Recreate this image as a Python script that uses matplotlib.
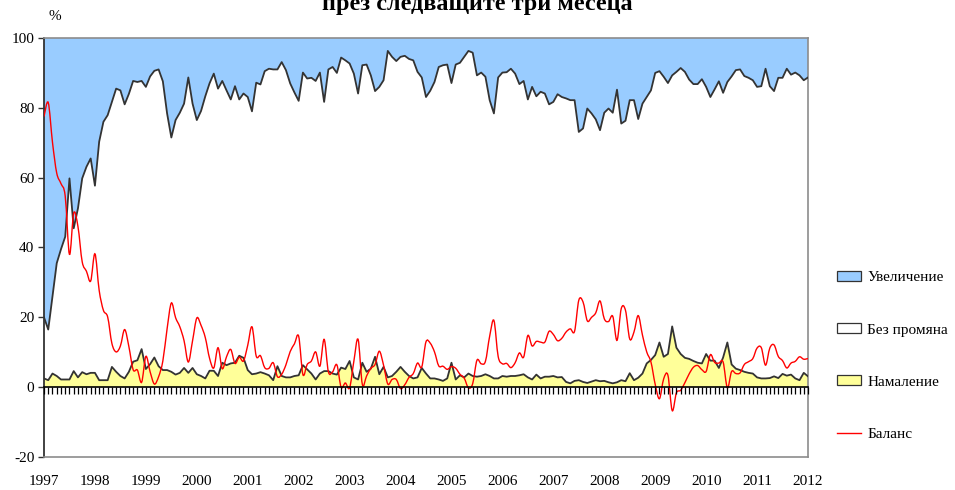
import matplotlib
matplotlib.use("Agg")
import matplotlib.pyplot as plt
import numpy as np
from matplotlib.patches import Patch, PathPatch
from matplotlib.lines import Line2D
from matplotlib.path import Path

plt.rcParams['font.family'] = ['Liberation Serif', 'DejaVu Serif']
plt.rcParams['axes.unicode_minus'] = False

years = ['1997', '1998', '1999', '2000', '2001', '2002', '2003', '2004',
         '2005', '2006', '2007', '2008', '2009', '2010', '2011', '2012']

# monthly shares (%), Jan 1997 .. Jan 2012
increase = [80, 83.5, 74, 64.5, 60.5, 56.9, 40.2, 54.5, 48.8, 40.2, 36.9, 34.5,
            42.3, 29.7, 24, 22.1, 18.3, 14.5, 15, 19, 16, 12.3, 12.6, 12.3,
            14, 11, 9.4, 9, 12.4, 21.6, 28.5, 23.5, 21.4, 18.8, 11.3, 18.8,
            23.5, 20.9, 16.7, 13, 10.2, 14.5, 12.3, 15, 17.6, 13.8, 17.6, 15.9,
            16.9, 21, 12.8, 13.3, 9.5, 8.8, 9, 9, 6.9, 9.2, 13, 15.6,
            18, 9.9, 11.6, 11.4, 12.3, 9.9, 18.3, 9, 8.3, 10, 5.6, 6.4,
            7.3, 10.2, 15.9, 7.8, 7.6, 10.7, 15.2, 14, 12.1, 3.7, 5.4, 6.6,
            5.4, 5.1, 6, 6.4, 9.7, 11.3, 16.9, 15.1, 12.6, 8.3, 7.8, 7.6,
            12.9, 7.6, 7.1, 5.4, 3.7, 4.2, 10.7, 9.9, 11.1, 17.8, 21.6, 11.3,
            9.9, 9.8, 8.8, 10.2, 13.2, 12.3, 17.6, 14, 16.7, 15.4, 15.9, 19,
            18.3, 16.1, 16.9, 17.3, 17.8, 17.8, 26.9, 25.9, 20.2, 21.6, 23.3, 26.4,
            21.4, 20.2, 21.4, 14.8, 24.5, 23.7, 17.8, 17.8, 23.2, 18.8, 16.9, 15,
            10, 9.5, 11.1, 12.9, 10.7, 9.7, 8.6, 9.7, 11.9, 13.2, 13.2, 11.8,
            14, 16.9, 14.7, 12.4, 15.7, 12.6, 11, 9.2, 9, 10.9, 11.4, 12.1,
            14, 13.8, 8.8, 13.8, 15.2, 11.4, 11.4, 8.8, 10.5, 9.9, 10.7, 12.1,
            11.3]

no_change = [17.5, 14.5, 22.1, 32.3, 37.3, 40.9, 57.6, 40.9, 48.4, 55.5, 59.4, 61.4,
             53.6, 68.3, 74, 75.9, 75.9, 81.1, 81.8, 78.5, 79.6, 80.4, 79.7, 76.8,
             80.8, 82.4, 82.1, 85, 82.7, 73.5, 67.1, 72.9, 74.5, 75.7, 84.6, 75.7,
             72.8, 75.9, 80.8, 82.3, 85.1, 82.3, 80.7, 78.7, 75.6, 79.2, 73.4, 75.7,
             78.2, 75.3, 83.3, 82.4, 86.6, 87.8, 89, 85, 89.9, 88, 84.2, 81.2,
             78.6, 83.8, 83.3, 84.7, 85.5, 86.2, 77.1, 86.4, 87.8, 86.4, 88.8, 88.4,
             85.2, 87, 81.9, 85.2, 88, 84, 76.1, 82.3, 82.1, 93.5, 91.4, 89,
             88.8, 90.5, 90.8, 91.1, 87.5, 83.2, 79.2, 82.4, 84.9, 89.5, 90.4, 89.9,
             80.1, 90.2, 89.5, 91.8, 92.4, 92.6, 86.3, 86.9, 85.2, 79, 75.9, 86.2,
             86.9, 87.2, 88, 86.6, 83.4, 84, 79.6, 83.8, 79.7, 82.1, 81.1, 78,
             78.5, 81.1, 80.2, 81.2, 81.1, 80.4, 71.1, 72.6, 78.6, 76.8, 74.7, 71.9,
             76.8, 78.4, 77.5, 83.8, 73.5, 74.6, 78.2, 80.2, 74.1, 77.3, 76.3, 77.2,
             80.8, 77.7, 80.2, 77.6, 71.9, 79, 81.9, 81.9, 80, 79.3, 79.8, 81.4,
             76.5, 75.5, 77.7, 82.1, 75.8, 74.6, 82.5, 85.5, 86.1, 84.7, 84.5, 84,
             83.2, 83.7, 88.7, 83.6, 81.7, 86, 84.8, 87.9, 85.9, 87.6, 87.3, 83.8,
             85.6]

decrease = [2.5, 2.0, 3.9, 3.2, 2.2, 2.2, 2.2, 4.6, 2.8, 4.3, 3.7, 4.1,
            4.1, 2.0, 2.0, 2.0, 5.8, 4.4, 3.2, 2.5, 4.4, 7.3, 7.7, 10.9,
            5.2, 6.6, 8.5, 6.0, 4.9, 4.9, 4.4, 3.6, 4.1, 5.5, 4.1, 5.5,
            3.7, 3.2, 2.5, 4.7, 4.7, 3.2, 7.0, 6.3, 6.8, 7.0, 9.0, 8.4,
            4.9, 3.7, 3.9, 4.3, 3.9, 3.4, 2.0, 6.0, 3.2, 2.8, 2.8, 3.2,
            3.4, 6.3, 5.1, 3.9, 2.2, 3.9, 4.6, 4.6, 3.9, 3.6, 5.6, 5.2,
            7.5, 2.8, 2.2, 7.0, 4.4, 5.3, 8.7, 3.7, 5.8, 2.8, 3.2, 4.4,
            5.8, 4.4, 3.2, 2.5, 2.8, 5.5, 3.9, 2.5, 2.5, 2.2, 1.8, 2.5,
            7.0, 2.2, 3.4, 2.8, 3.9, 3.2, 3.0, 3.2, 3.7, 3.2, 2.5, 2.5,
            3.2, 3.0, 3.2, 3.2, 3.4, 3.7, 2.8, 2.2, 3.6, 2.5, 3.0, 3.0,
            3.2, 2.8, 2.9, 1.5, 1.1, 1.8, 2.0, 1.5, 1.2, 1.6, 2.0, 1.7,
            1.8, 1.4, 1.1, 1.4, 2.0, 1.7, 4.0, 2.0, 2.7, 3.9, 6.8, 7.8,
            9.2, 12.8, 8.7, 9.5, 17.4, 11.3, 9.5, 8.4, 8.1, 7.5, 7.0, 6.8,
            9.5, 7.6, 7.6, 5.5, 8.5, 12.8, 6.5, 5.3, 4.9, 4.4, 4.1, 3.9,
            2.8, 2.5, 2.5, 2.6, 3.1, 2.6, 3.8, 3.3, 3.6, 2.5, 2.0, 4.1,
            3.1]

balance = [77.5, 81.5, 70.1, 61.3, 58.3, 54.7, 38.0, 49.9, 46.0, 35.9, 33.2, 30.4,
           38.2, 27.7, 22.0, 20.1, 12.5, 10.1, 11.8, 16.5, 11.6, 5.0, 4.9, 1.4,
           8.8, 4.4, 0.9, 3.0, 7.5, 16.7, 24.1, 19.9, 17.3, 13.3, 7.2, 13.3,
           19.8, 17.7, 14.2, 8.3, 5.5, 11.3, 5.3, 8.7, 10.8, 6.8, 8.6, 7.5,
           12.0, 17.3, 8.9, 9.0, 5.6, 5.4, 7.0, 3.0, 3.7, 6.4, 10.2, 12.4,
           14.6, 3.6, 6.5, 7.5, 10.1, 6.0, 13.7, 4.4, 4.4, 6.4, 0.0, 1.2,
           -0.2, 7.4, 13.7, 0.8, 3.2, 5.4, 6.5, 10.3, 6.3, 0.9, 2.2, 2.2,
           -0.4, 0.7, 2.8, 3.9, 6.9, 5.8, 13.0, 12.6, 10.1, 6.1, 6.0, 5.1,
           5.9, 5.4, 3.7, 2.6, -0.2, 1.0, 7.7, 6.7, 7.4, 14.6, 19.1, 8.8,
           6.7, 6.8, 5.6, 7.0, 9.8, 8.6, 14.8, 11.8, 13.1, 12.9, 12.9, 16.0,
           15.1, 13.3, 14.0, 15.8, 16.7, 16.0, 24.9, 24.4, 19.0, 20.0, 21.3, 24.7,
           19.6, 18.8, 20.3, 13.4, 22.5, 22.0, 13.8, 15.8, 20.5, 14.9, 10.1, 7.2,
           0.8, -3.3, 2.4, 3.4, -6.7, -1.6, -0.9, 1.3, 3.8, 5.7, 6.2, 5.0,
           4.5, 9.3, 7.1, 6.9, 7.2, -0.2, 4.5, 3.9, 4.1, 6.5, 7.3, 8.2,
           11.2, 11.3, 6.3, 11.2, 12.1, 8.8, 7.6, 5.5, 6.9, 7.4, 8.7, 8.0,
           8.2]

labels = ['Увеличение', 'Без промяна', 'Намаление', 'Баланс']
title = 'през следващите три месеца'

c_blue = '#99CCFF'
c_yellow = '#FFFF99'
c_line = '#333333'
c_grey = '#8C8C8C'
c_red = '#FF0000'

x = np.arange(len(decrease))


def smooth_path(xs, ys):
    """Excel-style smoothed line drawn as cubic Bezier segments through the points."""
    p = np.column_stack([xs, ys]).astype(float)
    pe = np.vstack([p[0], p, p[-1]])
    verts = [p[0]]
    codes = [Path.MOVETO]
    for i in range(len(p) - 1):
        p0, p1, p2, p3 = pe[i], pe[i + 1], pe[i + 2], pe[i + 3]
        verts += [p1 + (p2 - p0) / 6.0, p2 - (p3 - p1) / 6.0, p2]
        codes += [Path.CURVE4] * 3
    return Path(verts, codes)


fig = plt.figure(figsize=(9.55, 4.90), dpi=100)
ax = fig.add_axes([44 / 955, 1 - 457 / 490, 764 / 955, 419 / 490])

ax.stackplot(x, decrease, no_change, increase,
             colors=[c_yellow, 'white', c_blue], linewidth=0)
lower = np.array(decrease)
upper = lower + np.array(no_change)
ax.plot(x, lower, color=c_line, lw=1.3, zorder=3)
ax.plot(x, upper, color=c_line, lw=1.3, zorder=3)
ax.add_patch(PathPatch(smooth_path(x, balance), facecolor='none',
                       edgecolor=c_red, lw=1.0, zorder=4))

ax.set_xlim(0, len(x) - 1)
ax.set_ylim(-20, 100)
ax.set_yticks(np.arange(-20, 101, 20))
ax.tick_params(axis='y', direction='out', length=4, width=1, labelsize=11,
               color=c_line, pad=3)

ax.set_xticks(np.arange(0, len(x), 12))
ax.set_xticklabels(years)
ax.tick_params(axis='x', length=0, labelsize=11, pad=13)

for s in ['top', 'right', 'bottom']:
    ax.spines[s].set_color(c_grey)
    ax.spines[s].set_linewidth(1.2)
ax.spines['left'].set_color(c_line)
ax.spines['left'].set_linewidth(1.3)

sec = ax.secondary_xaxis(20 / 120)
sec.set_xticks(x)
sec.set_xticklabels([])
sec.tick_params(direction='out', length=5, width=0.9, color='black')
sec.spines['bottom'].set_color('black')
sec.spines['bottom'].set_linewidth(1.2)
sec.set_zorder(5)

fig.text(55 / 955, 1 - 17 / 490, '%', fontsize=11, ha='center', va='center')
fig.text(477 / 955, 1 - 10 / 490, title, fontsize=17.5, fontweight='bold',
         ha='center', va='baseline')

handles = [Patch(facecolor=c_blue, edgecolor=c_line, lw=0.9),
           Patch(facecolor='white', edgecolor=c_line, lw=0.9),
           Patch(facecolor=c_yellow, edgecolor=c_line, lw=0.9),
           Line2D([], [], color=c_red, lw=1.0)]
fig.legend(handles, labels, loc='center left', bbox_to_anchor=(823 / 955, 1 - 356 / 490),
           frameon=False, fontsize=11, labelspacing=2.55, handlelength=1.6,
           handleheight=0.6, handletextpad=0.4)

fig.savefig('out.png', dpi=100)
